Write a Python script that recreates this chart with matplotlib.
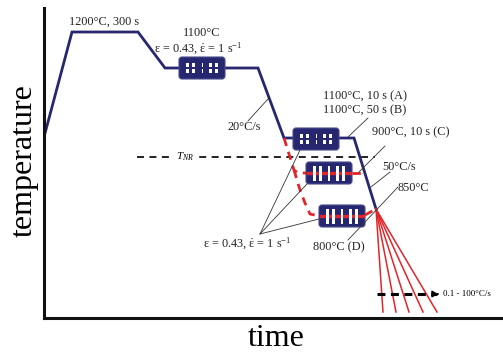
import matplotlib
matplotlib.use("Agg")
import matplotlib.pyplot as plt
from matplotlib.patches import FancyBboxPatch, Rectangle

plt.rcParams['font.family'] = ['Liberation Serif', 'DejaVu Serif']
plt.rcParams['mathtext.fontset'] = 'custom'
plt.rcParams['mathtext.rm'] = 'Liberation Serif'
plt.rcParams['mathtext.it'] = 'Liberation Serif:italic'

NAVY = '#27276f'
RED = '#e0262b'

# thermal schedule (schematic units: time, temperature)
profile_t = [0, 28, 94, 121, 214, 240, 310, 332]
profile_T = [181, 286, 286, 250, 250, 180, 180, 109]

# final cooling fan: 0.1 - 100 C/s
fan_start = (332, 109)
fan_end_t = [339, 352, 365, 379, 393]
fan_end_T = 6

# deformation passes: (left time, centre temperature, kind)
box_t = [135, 249, 262, 275]
box_T = [250, 179, 145, 102]
box_kind = ['dots', 'dots', 'bars', 'bars']
box_w, box_h = 46, 22

# red dashed routes to the lower passes
route_c_t = [240, 250, 254, 262]
route_c_T = [180, 148, 145, 145]
route_d_t = [250, 256, 261, 266, 275]
route_d_T = [148, 128, 115, 104, 102]
exit_c_t = [308, 320]
exit_c_T = [145, 145]
exit_d_t = [321, 332]
exit_d_T = [103, 109]

# non-recrystallisation temperature
tnr_t = [93, 331]
tnr_T = 161

# cooling-rate arrow
rate_t = [333, 393]
rate_T = 24

# leader lines: (t0, T0, t1, T1)
leaders = [
    (204, 197, 224, 219),
    (304, 181, 324, 200),
    (315, 146, 341, 172),
    (327, 131, 346, 146),
    (304, 78, 354, 131),
    (216, 84, 256, 168),
    (216, 84, 263, 134),
    (216, 84, 275, 99),
]

strain_txt = 'ε = 0.43, $\\dot{\\mathrm{\\varepsilon}}$ = 1 s$^{-1}$'
labels = [
    (60, 296, '1200°C, 300 s', 'center'),
    (158, 285, '1100°C', 'center'),
    (154, 269, strain_txt, 'center'),
    (183, 191, '20°C/s', 'left'),
    (279, 222, '1100°C, 10 s (A)', 'left'),
    (279, 208, '1100°C, 50 s (B)', 'left'),
    (328, 186, '900°C, 10 s (C)', 'left'),
    (338, 151, '50°C/s', 'left'),
    (354, 130, '850°C', 'left'),
    (269, 71, '800°C (D)', 'left'),
    (203, 74, strain_txt, 'center'),
]

fig = plt.figure(figsize=(5.03, 3.53), dpi=100)
ax = fig.add_axes([44 / 503, 35 / 353, 459 / 503, 310 / 353])
ax.set_xlim(0, 459)
ax.set_ylim(0, 310)
ax.set_xticks([])
ax.set_yticks([])
for s in ['top', 'right']:
    ax.spines[s].set_visible(False)
for s in ['left', 'bottom']:
    ax.spines[s].set_linewidth(2.2)
    ax.spines[s].set_color('#111111')

# main schedule
ax.plot(profile_t, profile_T, color=NAVY, lw=2.0, solid_joinstyle='miter', zorder=2)

for te in fan_end_t:
    ax.plot([fan_start[0], te], [fan_start[1], fan_end_T], color=RED, lw=1.1, zorder=2)

# passes
for t0, Tc, kind in zip(box_t, box_T, box_kind):
    b = FancyBboxPatch((t0, Tc - box_h / 2), box_w, box_h,
                       boxstyle='round,pad=0,rounding_size=3',
                       fc=NAVY, ec='#4a4a90', lw=0.8, zorder=3)
    ax.add_patch(b)
    cols = [0.18, 0.32, 0.68, 0.82]
    if kind == 'dots':
        for c in cols:
            for dy in (-4.5, 1.0):
                ax.add_patch(Rectangle((t0 + c * box_w - 1.6, Tc + dy), 3.2, 3.6,
                                       fc='white', ec='none', zorder=5))
        for dy in (-4.5, 1.0):
            ax.add_patch(Rectangle((t0 + 0.5 * box_w - 0.5, Tc + dy), 1.0, 3.6,
                                   fc='white', ec='none', zorder=5))
    else:
        ax.plot([t0 + 2, t0 + box_w - 2], [Tc, Tc], color=RED, lw=2.4, zorder=4)
        for c in cols:
            ax.add_patch(Rectangle((t0 + c * box_w - 1.5, Tc - 7.5), 3.0, 15,
                                   fc='white', ec='none', zorder=5))
        ax.add_patch(Rectangle((t0 + 0.5 * box_w - 0.6, Tc - 7.5), 1.2, 15,
                               fc='white', ec='none', zorder=5))

# red routes
red_kw = dict(color=RED, lw=2.0, dashes=(3.0, 2.2), zorder=4)
ax.plot(route_c_t, route_c_T, **red_kw)
ax.plot(route_d_t, route_d_T, **red_kw)
ax.plot(exit_c_t, exit_c_T, **red_kw)
ax.plot(exit_d_t, exit_d_T, **red_kw)

# T_NR
ax.plot(tnr_t, [tnr_T, tnr_T], color='#222222', lw=1.4, dashes=(3.6, 2.8), zorder=1)
ax.text(141, tnr_T, '$T_{NR}$', fontsize=8, ha='center', va='center', zorder=6,
        bbox=dict(fc='white', ec='none', pad=1.5))

# cooling rate arrow
ax.plot(rate_t, [rate_T, rate_T], color='black', lw=2.2, dashes=(2.6, 1.8), zorder=4)
ax.annotate('', xy=(rate_t[1] + 4, rate_T), xytext=(rate_t[1] - 2, rate_T),
            arrowprops=dict(arrowstyle='-|>,head_length=0.35,head_width=0.2',
                            color='black', lw=1.0), zorder=4)
ax.text(rate_t[1] + 6, rate_T, '0.1 - 100°C/s', fontsize=6.5, ha='left', va='center',
        clip_on=False)

for t0, T0, t1, T1 in leaders:
    ax.plot([t0, t1], [T0, T1], color='#333333', lw=0.6, zorder=6)

for t, T, s, ha in labels:
    ax.text(t, T, s, fontsize=8.8, ha=ha, va='center', color='#222222', zorder=7,
            clip_on=False)

ax.text(-20, 157, 'temperature', fontsize=23, rotation=90, ha='center', va='center',
        clip_on=False)
ax.text(232, -34.5, 'time', fontsize=23, ha='center', va='bottom', clip_on=False)

fig.savefig('out.png', dpi=100)
